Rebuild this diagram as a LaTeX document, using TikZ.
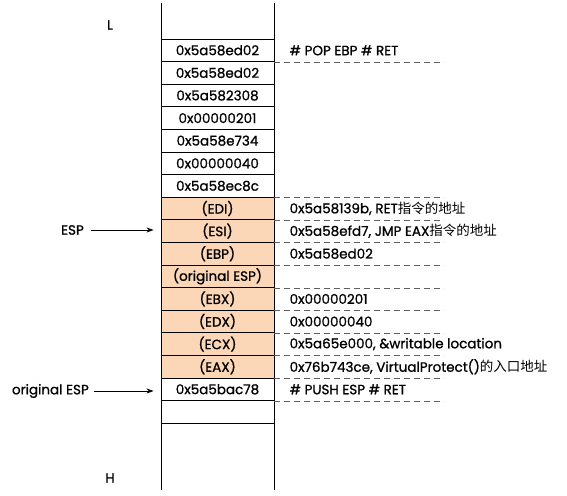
\documentclass[tikz,border=0pt]{standalone}
\usepackage{fontspec}
\setmainfont{Poppins}[UprightFeatures={FakeBold=1}]
\newfontfamily\cjk{Noto Sans CJK SC}
\usetikzlibrary{arrows.meta}
\definecolor{peach}{RGB}{251,214,183}
\definecolor{dashgray}{RGB}{95,95,95}
\tikzset{
  cell/.style={draw=black, line width=0.9pt, minimum width=113pt, minimum height=22.6pt, inner sep=0pt, font=\fontsize{13.5}{15}\selectfont},
  reg/.style={cell, fill=peach},
  note/.style={anchor=west, inner sep=0pt, font=\fontsize{13.5}{15}\selectfont},
  dline/.style={dashed, dash pattern=on 6pt off 4pt, draw=dashgray, line width=0.9pt},
  ptr/.style={-{Stealth[length=7pt,width=5pt]}, line width=0.8pt, shorten >=7pt},
  side/.style={font=\fontsize{13.5}{15}\selectfont, inner sep=1pt}
}
\begin{document}
\begin{tikzpicture}[x=1pt,y=-1pt]
\useasboundingbox (0,0) rectangle (567,495);
\coordinate (tl) at (161,3);
\coordinate (tr) at (274,3);
\coordinate (bl) at (161,490);
\coordinate (br) at (274,490);
\draw[line width=0.9pt] (tl) -- (bl);
\draw[line width=0.9pt] (tr) -- (br);
\node[cell] (c1) at (217.5,50.3) {0x5a58ed02};
\node[cell] (c2) at (217.5,72.9) {0x5a58ed02};
\node[cell] (c3) at (217.5,95.5) {0x5a582308};
\node[cell] (c4) at (217.5,118.1) {0x00000201};
\node[cell] (c5) at (217.5,140.7) {0x5a58e734};
\node[cell] (c6) at (217.5,163.3) {0x00000040};
\node[cell] (c7) at (217.5,185.9) {0x5a58ec8c};
\node[reg] (c8) at (217.5,208.5) {(EDI)};
\node[reg] (c9) at (217.5,231.1) {(ESI)};
\node[reg] (c10) at (217.5,253.7) {(EBP)};
\node[reg] (c11) at (217.5,276.3) {(original ESP)};
\node[reg] (c12) at (217.5,298.9) {(EBX)};
\node[reg] (c13) at (217.5,321.5) {(EDX)};
\node[reg] (c14) at (217.5,344.1) {(ECX)};
\node[reg] (c15) at (217.5,366.7) {(EAX)};
\node[cell] (c16) at (217.5,389.3) {0x5a5bac78};
\node[cell] (c17) at (217.5,411.9) {};
% dashed lines
\foreach \i in {1,7,8,9,10,11,12,13,14,15,16}{
  \draw[dline] (c\i.south east) -- ++(170,0);
}
% notes
\node[note] (n1) at ([xshift=15pt]c1.east) {\# POP EBP \# RET};
\node[note] (n8) at ([xshift=15pt]c8.east) {0x5a58139b, RET{\cjk 指令的地址}};
\node[note] (n9) at ([xshift=15pt]c9.east) {0x5a58efd7, JMP EAX{\cjk 指令的地址}};
\node[note] (n10) at ([xshift=15pt]c10.east) {0x5a58ed02};
\node[note] (n12) at ([xshift=15pt]c12.east) {0x00000201};
\node[note] (n13) at ([xshift=15pt]c13.east) {0x00000040};
\node[note] (n14) at ([xshift=15pt]c14.east) {0x5a65e000, \&writable location};
\node[note] (n15) at ([xshift=15pt]c15.east) {0x76b743ce, VirtualProtect(){\cjk 的入口地址}};
\node[note] (n16) at ([xshift=15pt]c16.east) {\# PUSH ESP \# RET};
% side labels
\node[side] (L) at (110,25) {L};
\node[side] (H) at (110,478) {H};
\node[side, anchor=east] (esp) at (85,230) {ESP};
\node[side, anchor=east] (oesp) at (90,391) {original ESP};
\draw[ptr] ([xshift=6pt]esp.east) -- (esp.east -| c9.west);
\draw[ptr] ([xshift=4pt]oesp.east) -- (oesp.east -| c16.west);
\end{tikzpicture}
\end{document}
